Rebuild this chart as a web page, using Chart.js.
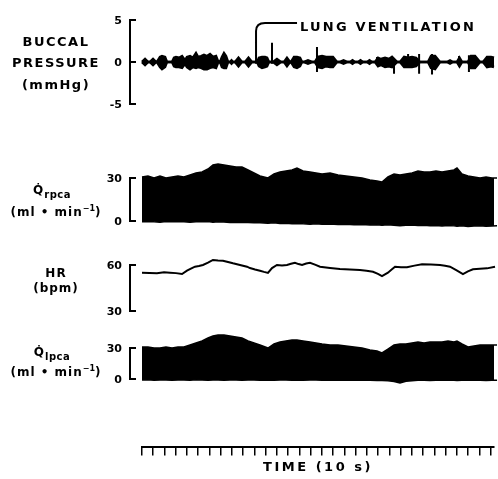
<!DOCTYPE html>
<html>
<head>
<meta charset="utf-8">
<script src="https://cdn.jsdelivr.net/npm/chart.js@4.4.1/dist/chart.umd.min.js"></script>
<style>
  html, body { margin: 0; padding: 0; background: #fff; }
  #wrap { position: relative; width: 498px; height: 479px; }
  #c { position: absolute; left: 0; top: 0; }
  .lbl { position: absolute; left: 0; width: 112px; text-align: center; color: #000;
         font: bold 13px "DejaVu Sans", "Liberation Sans", sans-serif; letter-spacing: 1.5px;
         line-height: 16px; white-space: nowrap; }
  .lbl.sm { font-size: 12px; letter-spacing: 1px; }
  .lbl sub { font-size: 10px; vertical-align: baseline; position: relative; top: 4px; letter-spacing: 0.5px; }
  .lbl sup { font-size: 8px; vertical-align: baseline; position: relative; top: -5px; letter-spacing: 0; }
</style>
</head>
<body>
<div id="wrap">
  <canvas id="c" width="498" height="479"></canvas>
  <div class="lbl" style="top:34px">BUCCAL</div>
  <div class="lbl" style="top:55px">PRESSURE</div>
  <div class="lbl" style="top:77px">(mmHg)</div>
  <div class="lbl sm" style="top:182px;left:-4px">Q&#775;<sub>rpca</sub></div>
  <div class="lbl sm" style="top:204px">(ml • min<sup>−1</sup>)</div>
  <div class="lbl sm" style="top:265px">HR</div>
  <div class="lbl sm" style="top:280px">(bpm)</div>
  <div class="lbl sm" style="top:344px;left:-4px">Q&#775;<sub>lpca</sub></div>
  <div class="lbl sm" style="top:364px">(ml • min<sup>−1</sup>)</div>
</div>
<script>
// time marks on the bottom bar (s)
const timeTicks = [0, 10, 20, 30, 40, 50, 60, 70, 80, 90, 100, 110, 120, 130, 140, 150,
  160, 170, 180, 190, 200, 210, 220, 230, 240, 250, 260, 270, 280, 290, 300, 310];

// y tick values / labels for each trace
const buccalTicks = [5, 0, -5];
const buccalLabels = ['5', '0', '-5'];
const rpcaTicks = [30, 0];
const rpcaLabels = ['30', '0'];
const hrTicks = [60, 30];
const hrLabels = ['60', '30'];
const lpcaTicks = [30, 0];
const lpcaLabels = ['30', '0'];

// buccal pressure (mmHg): envelope of the pumping bursts
const bTime = [0, 2.7, 5.3, 7.1, 9.8, 12.4, 13.3, 16.0, 17.8, 20.5,
  22.2, 26.7, 28.5, 30.2, 32.9, 35.6, 38.2, 40.0, 42.7, 45.3,
  48.0, 49.8, 52.5, 55.1, 57.8, 60.5, 63.1, 65.8, 67.6, 69.4,
  71.1, 72.9, 74.7, 76.5, 78.2, 79.6, 80.9, 82.7, 85.8, 88.9,
  91.6, 94.7, 97.8, 102.3, 104.0, 106.7, 109.4, 111.2, 112.9, 116.5,
  120.0, 123.6, 126.3, 128.9, 131.6, 132.5, 135.2, 137.8, 140.5, 142.3,
  144.1, 147.6, 151.2, 153.8, 156.5, 160.1, 163.6, 167.2, 169.8, 173.4,
  176.1, 179.2, 182.3, 185.0, 187.2, 189.4, 192.1, 194.3, 196.5, 200.1,
  202.3, 204.5, 207.2, 209.9, 212.5, 216.1, 219.6, 222.3, 226.7, 229.4,
  233.1, 236.6, 240.1, 243.7, 247.2, 254.3, 257.0, 260.6, 265.0, 271.2,
  273.9, 276.5, 280.1, 282.3, 284.5, 289.8, 292.5, 296.1, 300.6, 303.2,
  306.8, 310.3, 313.0, 315.7];
const bUp = [0, .35, 0, 0, .35, 0, 0, .6, .7, .6,
  0, 0, .5, .6, .5, .7, .2, .6, .7, .5,
  1.05, .6, .7, .85, .7, .95, .6, .7, .1, 0,
  .6, 1.05, .7, 0, 0, .2, 0, 0, .5, 0,
  0, .5, 0, 0, .5, .6, .6, .5, 0, 0,
  .35, 0, 0, .5, 0, 0, .6, .6, .5, 0,
  0, .2, 0, 0, .6, .7, .6, .6, .6, 0,
  0, .2, 0, 0, .2, 0, 0, .2, 0, 0,
  .2, 0, 0, .5, .35, .5, .35, .6, 0, 0,
  .6, .5, .6, .5, 0, 0, .7, .7, 0, 0,
  .2, 0, 0, .5, 0, 0, .7, .7, 0, 0,
  .6, .6, .5, 0];
const bDown = [0, -.35, 0, 0, -.35, 0, 0, -.6, -.85, -.6,
  0, 0, -.5, -.6, -.6, -.7, -.2, -.6, -.85, -.6,
  -.7, -.6, -.7, -.85, -.85, -.7, -.6, -.7, -.1, 0,
  -.6, -.7, -.7, 0, 0, -.2, 0, 0, -.5, 0,
  0, -.5, 0, 0, -.5, -.7, -.6, -.5, 0, 0,
  -.35, 0, 0, -.5, 0, 0, -.6, -.7, -.5, 0,
  0, -.2, 0, 0, -.6, -.7, -.5, -.6, -.6, 0,
  0, -.2, 0, 0, -.2, 0, 0, -.2, 0, 0,
  -.2, 0, 0, -.5, -.35, -.6, -.5, -.6, 0, 0,
  -.6, -.6, -.6, -.5, 0, 0, -.7, -.85, 0, 0,
  -.2, 0, 0, -.5, 0, 0, -.7, -.7, 0, 0,
  -.6, -.5, -.6, 0];

// lung ventilation spikes
const spikeTime = [101.4, 115.6, 155.6, 209.0, 224.1, 236.6, 246.4, 257.9, 281.9, 290.7];
const spikeTop = [3.7, 2.3, 1.8, 0.6, 0.2, 0.95, 0.95, 0.95, 0.7, 0.8];
const spikeBottom = [-0.2, -0.2, -1.2, -0.2, -1.4, -0.6, -1.4, -1.5, -0.5, -1.2];

// pulsatile flow envelopes (ml/min)
const flowTime = [0, 5.3, 10.7, 16.0, 21.3, 26.7, 32.0, 37.3, 42.7, 48.0,
  53.4, 58.7, 63.1, 67.6, 72.9, 78.2, 83.6, 88.9, 94.3, 99.6,
  104.9, 112.0, 117.4, 122.7, 128.0, 133.4, 137.8, 143.2, 149.4, 154.7,
  160.1, 167.2, 174.3, 181.4, 188.5, 195.6, 202.7, 209.0, 213.4, 218.7,
  224.1, 229.4, 234.7, 240.1, 245.4, 250.8, 256.1, 261.4, 266.8, 272.1,
  277.4, 280.1, 284.5, 289.9, 295.2, 300.6, 305.9, 311.2, 315.7];
const rpcaTop = [30.7, 31.4, 30.0, 31.4, 30.0, 30.7, 31.4, 30.7, 32.1, 33.5,
  34.2, 36.3, 39.1, 39.8, 39.1, 38.4, 37.7, 37.7, 35.6, 33.5,
  31.4, 30.0, 32.8, 34.2, 34.9, 35.6, 37.0, 34.9, 34.2, 33.5,
  32.8, 33.5, 32.1, 31.4, 30.7, 30.0, 28.6, 27.9, 27.2, 30.7,
  32.8, 32.1, 32.8, 33.5, 34.9, 34.2, 34.2, 34.9, 34.2, 34.9,
  35.6, 37.0, 32.8, 31.4, 30.7, 30.0, 30.7, 30.0, 30.0];
const rpcaBottom = [-0.5, -0.3, -0.6, -0.8, -0.4, -0.6, -0.3, -0.6, -0.9, -0.5,
  -0.6, -0.4, -0.8, -0.6, -0.7, -1.0, -0.8, -1.1, -1.0, -1.3,
  -1.2, -1.5, -1.3, -1.7, -1.5, -1.9, -1.7, -2.0, -2.2, -2.0,
  -2.3, -2.1, -2.5, -2.3, -2.6, -2.4, -2.8, -2.6, -3.0, -2.7,
  -2.9, -3.3, -3.0, -2.8, -3.2, -3.0, -3.3, -3.1, -3.5, -3.2,
  -3.4, -3.7, -3.4, -3.8, -3.5, -3.3, -3.7, -3.5, -3.4];
const lpcaTop = [31.0, 31.0, 30.0, 30.0, 31.0, 30.0, 31.0, 31.0, 32.9, 34.8,
  36.8, 39.7, 41.6, 42.6, 42.6, 41.6, 40.6, 39.7, 36.8, 34.8,
  32.9, 30.0, 33.9, 35.8, 36.8, 37.7, 37.7, 36.8, 35.8, 34.8,
  33.9, 32.9, 32.9, 31.9, 31.0, 30.0, 28.1, 27.1, 25.2, 29.0,
  32.9, 33.9, 33.9, 34.8, 35.8, 34.8, 35.8, 35.8, 35.8, 36.8,
  35.8, 36.8, 33.9, 31.0, 31.9, 32.9, 32.9, 32.9, 32.9];
const lpcaBottom = [-1, -0.8, -1.1, -0.9, -1, -1.2, -0.9, -1, -1.1, -0.8,
  -1, -1.2, -0.9, -1, -1.1, -0.9, -1, -1.2, -1, -0.9,
  -1.1, -1, -1.2, -0.9, -1, -1.1, -1, -1.2, -0.9, -1,
  -1.1, -1, -1.2, -1, -1.1, -1.3, -1.2, -1.4, -1.5, -1.8,
  -2.5, -3.8, -2.2, -1.6, -1.3, -1.2, -1.4, -1.2, -1.3, -1.1,
  -1.2, -1.4, -1.2, -1.3, -1.1, -1.2, -1.4, -1.3, -1.2];

// heart rate (bpm)
const hrTime = [0, 6.7, 13.3, 19.6, 24.9, 30.2, 35.6, 40.0, 43.5, 47.1,
  50.6, 54.2, 58.7, 63.1, 67.6, 72.0, 76.5, 80.9, 87.1, 93.4,
  96.0, 100.5, 104.9, 108.5, 112.0, 115.6, 120.0, 124.5, 128.9, 132.5,
  136.0, 139.2, 142.3, 146.0, 149.4, 153.8, 158.3, 167.2, 176.0, 184.9,
  193.8, 199.6, 205.4, 209.8, 213.4, 218.7, 222.0, 225.0, 230.3, 235.6,
  242.3, 249.0, 257.0, 265.0, 269.5, 273.9, 279.8, 285.4, 289.8, 294.3,
  300.5, 306.8, 313.9];
const hrVal = [55.0, 54.8, 54.6, 55.2, 55.0, 54.7, 54.1, 56.3, 57.6, 58.9,
  59.3, 60.0, 61.5, 63.3, 63.0, 62.8, 62.0, 61.1, 60.0, 58.9,
  58.0, 57.1, 56.3, 55.5, 54.8, 58.0, 60.0, 59.6, 60.0, 60.8,
  61.5, 60.6, 60.0, 61.0, 61.5, 60.2, 58.9, 58.1, 57.4, 57.0,
  56.7, 56.2, 55.6, 54.2, 52.8, 55.0, 57.0, 58.9, 58.6, 58.5,
  59.6, 60.5, 60.3, 60.0, 59.5, 58.9, 56.5, 54.1, 55.8, 57.2,
  57.6, 57.8, 58.9];

const FONT = '"DejaVu Sans", "Liberation Sans", sans-serif';
const AREA_BOTTOM = 447.4;   // chart area runs from canvas top down to the time bar
const BRACKET_X = 130;

// y range so that vTop sits at pixel pTop and vBot at pBot
function yRange(vTop, pTop, vBot, pBot) {
  const k = (pBot - pTop) / (vTop - vBot);
  const max = vTop + pTop / k;
  return { min: max - AREA_BOTTOM / k, max: max };
}

const panels = [
  { id: 'yB', ticks: buccalTicks, labels: buccalLabels, range: yRange(5, 20, -5, 104) },
  { id: 'yR', ticks: rpcaTicks, labels: rpcaLabels, range: yRange(30, 178, 0, 221) },
  { id: 'yH', ticks: hrTicks, labels: hrLabels, range: yRange(60, 265, 30, 311) },
  { id: 'yL', ticks: lpcaTicks, labels: lpcaLabels, range: yRange(30, 348, 0, 379) },
];

const pts = (xs, ys) => xs.map((x, i) => ({ x: x, y: ys[i] }));

const spikeData = [];
spikeTime.forEach((t, i) => {
  spikeData.push({ x: t, y: spikeBottom[i] }, { x: t, y: spikeTop[i] }, { x: t, y: null });
});

const base = { pointRadius: 0, borderColor: '#000', backgroundColor: '#000', tension: 0, clip: false };

const bracketPlugin = {
  id: 'brackets',
  beforeDraw(chart) {
    chart.ctx.letterSpacing = '2.5px';
  },
  afterDraw(chart) {
    const ctx = chart.ctx;
    ctx.save();
    ctx.strokeStyle = '#000';
    ctx.fillStyle = '#000';
    ctx.lineWidth = 2;
    ctx.letterSpacing = '0px';
    ctx.font = 'bold 11px ' + FONT;
    ctx.textAlign = 'right';
    ctx.textBaseline = 'middle';
    panels.forEach(p => {
      const s = chart.scales[p.id];
      const ys = p.ticks.map(v => s.getPixelForValue(v));
      const top = Math.min(...ys), bot = Math.max(...ys);
      ctx.beginPath();
      ctx.moveTo(BRACKET_X + 6, top);
      ctx.lineTo(BRACKET_X, top);
      ctx.lineTo(BRACKET_X, bot);
      ctx.lineTo(BRACKET_X + 6, bot);
      ys.forEach(y => {
        if (y > top && y < bot) { ctx.moveTo(BRACKET_X, y); ctx.lineTo(BRACKET_X + 6, y); }
      });
      ctx.stroke();
      ys.forEach((y, i) => ctx.fillText(p.labels[i], BRACKET_X - 8, y + 1));
    });

    // "lung ventilation" pointer onto the first spike
    const sx = chart.scales.x.getPixelForValue(spikeTime[0]);
    const sy = chart.scales.yB.getPixelForValue(spikeTop[0]);
    ctx.beginPath();
    ctx.moveTo(sx, sy);
    ctx.quadraticCurveTo(sx, sy - 8, sx + 9, sy - 8);
    ctx.lineTo(sx + 41, sy - 8);
    ctx.stroke();
    ctx.font = 'bold 13px ' + FONT;
    ctx.letterSpacing = '2.2px';
    ctx.textAlign = 'left';
    ctx.fillText('LUNG VENTILATION', sx + 44, sy - 3);
    ctx.restore();
  }
};

const yScales = {};
panels.forEach(p => {
  yScales[p.id] = { type: 'linear', display: false, min: p.range.min, max: p.range.max };
});

new Chart(document.getElementById('c'), {
  type: 'line',
  data: {
    datasets: [
      { ...base, data: pts(bTime, bUp), yAxisID: 'yB', fill: '+1', borderWidth: 2.5 },
      { ...base, data: pts(bTime, bDown), yAxisID: 'yB', fill: false, borderWidth: 2.5 },
      { ...base, data: spikeData, yAxisID: 'yB', fill: false, borderWidth: 2 },
      { ...base, data: pts(flowTime, rpcaTop), yAxisID: 'yR', fill: '+1', borderWidth: 1.5 },
      { ...base, data: pts(flowTime, rpcaBottom), yAxisID: 'yR', fill: false, borderWidth: 1.5 },
      { ...base, data: pts(hrTime, hrVal), yAxisID: 'yH', fill: false, borderWidth: 2 },
      { ...base, data: pts(flowTime, lpcaTop), yAxisID: 'yL', fill: '+1', borderWidth: 1.5 },
      { ...base, data: pts(flowTime, lpcaBottom), yAxisID: 'yL', fill: false, borderWidth: 1.5 },
    ]
  },
  options: {
    responsive: false,
    animation: false,
    devicePixelRatio: 1,
    events: [],
    layout: { padding: { left: 142, right: 4, top: 0, bottom: 0 } },
    plugins: {
      legend: { display: false },
      tooltip: { enabled: false },
    },
    scales: {
      x: {
        type: 'linear',
        position: 'bottom',
        min: 0,
        max: 313,
        afterBuildTicks: s => { s.ticks = timeTicks.map(v => ({ value: v })); },
        ticks: { display: false },
        grid: { drawOnChartArea: false, drawTicks: true, tickLength: 8, color: '#000', lineWidth: 1.5 },
        border: { display: true, color: '#000', width: 2 },
        title: {
          display: true,
          text: 'TIME (10 s)',
          color: '#000',
          font: { family: FONT, size: 13, weight: 'bold' },
          padding: { top: 4, bottom: 4 }
        }
      },
      ...yScales
    }
  },
  plugins: [bracketPlugin]
});
</script>
</body>
</html>
